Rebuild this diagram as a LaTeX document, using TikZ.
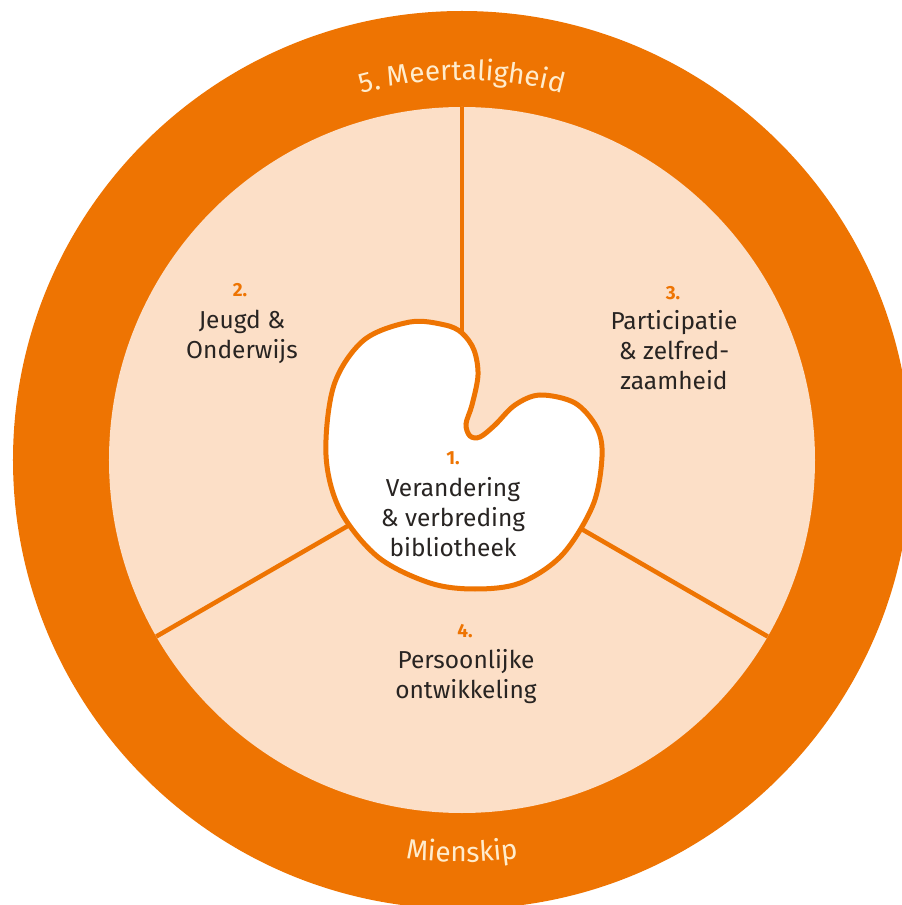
\documentclass[tikz,border=0pt]{standalone}
\usepackage{fontspec}
\setmainfont{Fira Sans}
\usetikzlibrary{decorations.text}
\definecolor{orng}{RGB}{238,116,2}
\definecolor{peach}{RGB}{252,223,199}
\definecolor{cream}{RGB}{255,236,205}
\definecolor{ink}{RGB}{40,36,34}
\begin{document}
\begin{tikzpicture}[x=1pt,y=1pt,
  lbl/.style={align=center, text=ink, font=\fontsize{24.5}{30}\selectfont, inner sep=0},
  num/.style={text=orng, font=\bfseries\fontsize{19}{19}\selectfont, inner sep=0},
  divider/.style={draw=orng, line width=4.5pt},
  blob/.style={draw=orng, line width=5pt, fill=white}]
\useasboundingbox (-462,-445) rectangle (440,460);
\fill[orng] (0,0) circle (449);
\fill[peach] (0,0) circle (353);
\coordinate (c) at (0,0);
\coordinate (t1) at (90:353);
\coordinate (t2) at (90:110);
\coordinate (l1) at (210:353);
\coordinate (l2) at (210:120);
\coordinate (r1) at (-30:353);
\coordinate (r2) at (-30:120);
\draw[divider] (t1) -- (t2);
\draw[divider] (l1) -- (l2);
\draw[divider] (r1) -- (r2);
\draw[blob] plot[smooth cycle, tension=0.55] coordinates {
 (0,127) (12,110) (16,85) (10,55) (4,36) (8,24) (18,23) (33,35) (53,55)
 (78,65) (113,57) (135,32) (140,3) (131,-45) (100,-95) (58,-123) (13,-129)
 (-32,-123) (-84,-97) (-122,-50) (-136,5) (-128,75) (-98,120) (-52,138) (-17,135)};
\node[num] (n1) at (-9,2) {1.};
\node[lbl] (b1) at (-9,-57) {Verandering\\\& verbreding\\bibliotheek};
\node[num] (n2) at (-222,170) {2.};
\node[lbl] (b2) at (-220,123) {Jeugd \&\\Onderwijs};
\node[num] (n3) at (211,167) {3.};
\node[lbl] (b3) at (212,110) {Participatie\\\& zelfred-\\zaamheid};
\node[num] (n4) at (3,-171) {4.};
\node[lbl] (b4) at (4,-217) {Persoonlijke\\ontwikkeling};
\path[decorate, decoration={text along path, text align=center,
  text={|\fontsize{28}{28}\selectfont\color{cream}|5. Meertaligheid}}]
  (125:380) arc[start angle=125, end angle=55, radius=380];
\path[decorate, decoration={text along path, text align=center,
  text={|\fontsize{28}{28}\selectfont\color{cream}|Mienskip}}]
  (240:402) arc[start angle=240, end angle=300, radius=402];
\end{tikzpicture}
\end{document}
